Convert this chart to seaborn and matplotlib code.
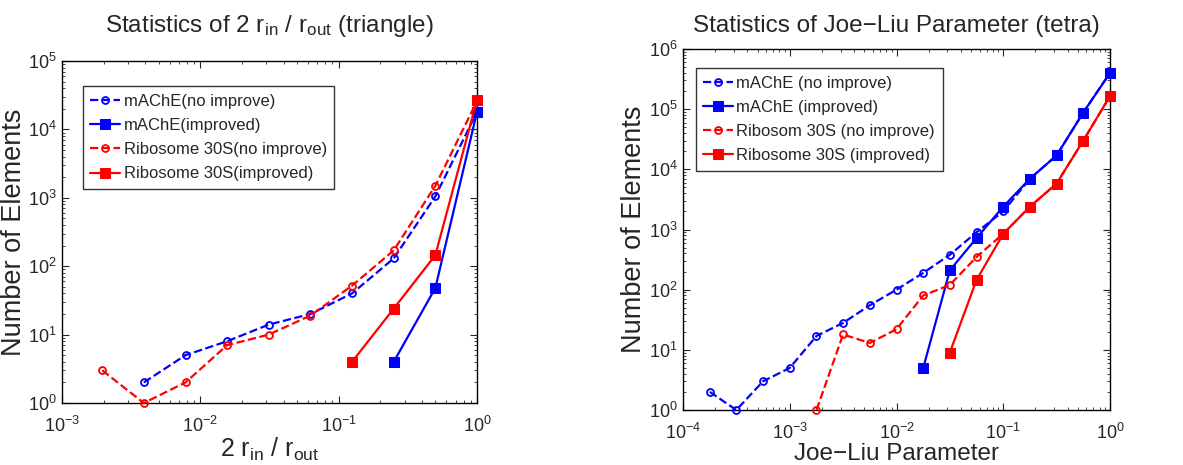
import numpy as np
import pandas as pd
import matplotlib
matplotlib.use("Agg")
import matplotlib.pyplot as plt
import seaborn as sns

# ---- left panel: 2 r_in / r_out (triangle) ----
tri_x_mache_no = [1/256, 1/128, 1/64, 1/32, 1/16, 1/8, 1/4, 1/2, 1]
tri_y_mache_no = [2, 5, 8, 14, 20, 40, 130, 1050, 18000]
tri_x_mache_imp = [1/4, 1/2, 1]
tri_y_mache_imp = [4, 48, 18000]
tri_x_ribo_no = [1/512, 1/256, 1/128, 1/64, 1/32, 1/16, 1/8, 1/4, 1/2, 1]
tri_y_ribo_no = [3, 1, 2, 7, 10, 19, 52, 170, 1500, 26000]
tri_x_ribo_imp = [1/8, 1/4, 1/2, 1]
tri_y_ribo_imp = [4, 24, 145, 27000]

# ---- right panel: Joe-Liu parameter (tetra) ----
tet_x_mache_no = [1.78e-4, 3.16e-4, 5.62e-4, 1e-3, 1.78e-3, 3.16e-3, 5.62e-3, 1e-2,
                  1.78e-2, 3.16e-2, 5.62e-2, 0.1, 0.178, 0.316, 0.562, 1]
tet_y_mache_no = [2, 1, 3, 5, 17, 28, 55, 100, 190, 380, 900, 2000, 7000, 17000, 88000, 400000]
tet_x_mache_imp = [1.78e-2, 3.16e-2, 5.62e-2, 0.1, 0.178, 0.316, 0.562, 1]
tet_y_mache_imp = [5, 210, 720, 2400, 7000, 17000, 88000, 400000]
tet_x_ribo_no = [1.78e-3, 3.16e-3, 5.62e-3, 1e-2, 1.78e-2, 3.16e-2, 5.62e-2, 0.1,
                 0.178, 0.316, 0.562, 1]
tet_y_ribo_no = [1, 18, 13, 22, 80, 120, 350, 850, 2400, 5800, 30000, 165000]
tet_x_ribo_imp = [3.16e-2, 5.62e-2, 0.1, 0.178, 0.316, 0.562, 1]
tet_y_ribo_imp = [9, 145, 850, 2400, 5800, 30000, 165000]

sns.set_style("ticks")
plt.rcParams['font.family'] = ['Liberation Sans', 'DejaVu Sans']
plt.rcParams['mathtext.default'] = 'regular'
plt.rcParams['xtick.direction'] = 'in'
plt.rcParams['ytick.direction'] = 'in'

fig = plt.figure(figsize=(11.83, 4.65), dpi=100)
ax1 = fig.add_axes([62/1183, 1 - 403/465, 415/1183, 342/465])
ax2 = fig.add_axes([683/1183, 1 - 410/465, 427/1183, 361/465])


def draw(ax, x, y, color, dashed, label):
    df = pd.DataFrame({'x': x, 'y': y})
    if dashed:
        sns.lineplot(data=df, x='x', y='y', ax=ax, color=color, linestyle='--',
                     marker='o', markersize=5, markerfacecolor='none',
                     markeredgecolor=color, markeredgewidth=1.3, linewidth=1.6,
                     label=label, dashes=(3.5, 2.5), clip_on=False, zorder=3)
    else:
        sns.lineplot(data=df, x='x', y='y', ax=ax, color=color, linestyle='-',
                     marker='s', markersize=6.5, markerfacecolor=color,
                     markeredgecolor=color, linewidth=1.6, label=label,
                     clip_on=False, zorder=3)


for ax in (ax1, ax2):
    ax.set_xscale('log')
    ax.set_yscale('log')

draw(ax1, tri_x_mache_no, tri_y_mache_no, 'blue', True, 'mAChE(no improve)')
draw(ax1, tri_x_mache_imp, tri_y_mache_imp, 'blue', False, 'mAChE(improved)')
draw(ax1, tri_x_ribo_no, tri_y_ribo_no, 'red', True, 'Ribosome 30S(no improve)')
draw(ax1, tri_x_ribo_imp, tri_y_ribo_imp, 'red', False, 'Ribosome 30S(improved)')

draw(ax2, tet_x_mache_no, tet_y_mache_no, 'blue', True, 'mAChE (no improve)')
draw(ax2, tet_x_mache_imp, tet_y_mache_imp, 'blue', False, 'mAChE (improved)')
draw(ax2, tet_x_ribo_no, tet_y_ribo_no, 'red', True, 'Ribosom 30S (no improve)')
draw(ax2, tet_x_ribo_imp, tet_y_ribo_imp, 'red', False, 'Ribosome 30S (improved)')

ax1.set_xlim(1e-3, 1)
ax1.set_ylim(1, 1e5)
ax2.set_xlim(1e-4, 1)
ax2.set_ylim(1, 1e6)

ax1.set_title('Statistics of 2 r$_{in}$ / r$_{out}$ (triangle)', fontsize=17.5, pad=21)
ax1.set_xlabel('2 r$_{in}$ / r$_{out}$', fontsize=18, labelpad=0)
ax1.set_ylabel('Number of Elements', fontsize=19.5)
ax2.set_title('Statistics of Joe\u2212Liu Parameter (tetra)', fontsize=17.5, pad=12)
ax2.set_xlabel('Joe\u2212Liu Parameter', fontsize=17.5, labelpad=0)
ax2.set_ylabel('Number of Elements', fontsize=19.5)
ax1.yaxis.set_label_coords(-0.084, 0.5)
ax2.yaxis.set_label_coords(-0.084, 0.5)

for ax in (ax1, ax2):
    ax.tick_params(which='both', top=True, right=True, labelsize=13)
    ax.tick_params(axis='x', which='major', pad=9)
    ax.tick_params(axis='y', which='major', pad=4)
    ax.tick_params(which='major', length=5)
    ax.tick_params(which='minor', length=2.5)
    for s in ax.spines.values():
        s.set_linewidth(1.0)
        s.set_color('black')
    leg = ax.legend(loc='upper left', fontsize=12, frameon=True, fancybox=False,
                    handlelength=1.8, handletextpad=0.2, borderpad=0.45,
                    labelspacing=0.55, borderaxespad=0.5)
    leg.get_frame().set_edgecolor('black')
    leg.get_frame().set_linewidth(1.0)

ax1.legend_.set_bbox_to_anchor((0.03, 0.95), transform=ax1.transAxes)
ax2.legend_.set_bbox_to_anchor((0.01, 0.97), transform=ax2.transAxes)

fig.savefig('out.png', dpi=100)
